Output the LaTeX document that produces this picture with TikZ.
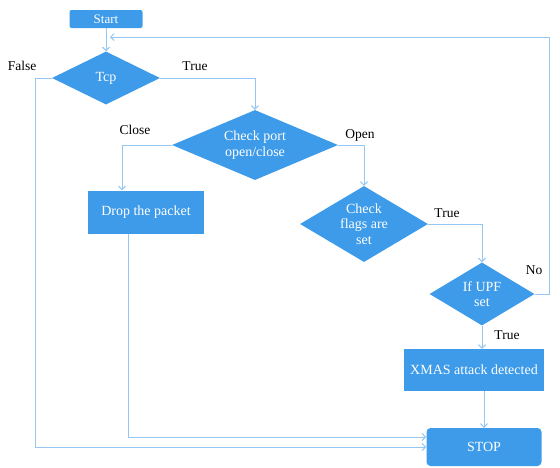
\documentclass[tikz,border=0pt]{standalone}
\usepackage{fontspec}
\setmainfont{Liberation Serif}
\usetikzlibrary{shapes.geometric,arrows.meta,calc}
\definecolor{boxblue}{RGB}{61,155,233}
\definecolor{lineblue}{RGB}{150,198,242}

\begin{document}
\begin{tikzpicture}[x=1pt,y=-1pt,
  every node/.style={font=\fontsize{14}{15.5}\selectfont},
  decide/.style={diamond,fill=boxblue,text=white,align=center,inner sep=-2pt},
  proc/.style={rectangle,fill=boxblue,text=white,align=center,inner sep=0pt},
  flow/.style={draw=lineblue,line width=1pt,-{Straight Barb[length=3.5pt,width=7pt]}},
  lbl/.style={text=black,font=\fontsize{13.5}{15}\selectfont}]
\useasboundingbox (0,0) rectangle (560,467);

\node[proc,rounded corners=2pt,minimum width=73,minimum height=18,font=\fontsize{13}{14}\selectfont] (start) at (106,19) {Start};
\node[decide,aspect=2,minimum width=108,minimum height=53] (tcp) at (106,78) {Tcp};
\node[decide,aspect=2.37,minimum width=166,minimum height=70] (port) at (255,145) {Check port\\open/close};
\node[proc,minimum width=116,minimum height=43] (drop) at (146,212) {Drop the packet};
\node[decide,aspect=1.68,minimum width=128,minimum height=76] (flags) at (364,224) {Check\\flags are\\set};
\node[decide,aspect=1.67,minimum width=105,minimum height=63] (upf) at (482,294) {If UPF\\set};
\node[proc,minimum width=140,minimum height=42] (xmas) at (474,370) {XMAS attack detected};
\node[proc,rounded corners=4pt,minimum width=115,minimum height=38] (stop) at (484,447) {STOP};

\coordinate (loop) at (549,37);

\draw[flow] (start) -- (tcp.north);
\draw[flow] (tcp.east) -| (port.north);
\draw[flow] (port.west) -| ([xshift=-24pt]drop.north);
\draw[flow] (port.east) -| (flags.north);
\draw[flow] (flags.east) -| (upf.north);
\draw[flow] (upf.south) -- (upf.south |- xmas.north);
\draw[flow] (stop.north |- xmas.south) -- (stop.north);
\draw[flow] ([xshift=-18pt]drop.south) |- ([yshift=10pt]stop.west);
\draw[flow] (tcp.west) -- ++(-16,0) |- (stop.west);
\draw[flow] (upf.east) -| (loop) -- ([xshift=4pt]loop -| start.south);

\node[lbl] (lfalse) at (22,66) {False};
\node[lbl] (ltrue1) at (195,66) {True};
\node[lbl] (lclose) at (135,130) {Close};
\node[lbl] (lopen) at (360,135) {Open};
\node[lbl] (ltrue2) at (447,213) {True};
\node[lbl] (lno) at (534,270) {No};
\node[lbl] (ltrue3) at (507,335) {True};
\end{tikzpicture}
\end{document}
